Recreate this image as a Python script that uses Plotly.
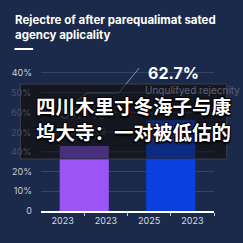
import plotly.graph_objects as go

# Data
bar_x = [1, 3]
bar_values = [3.3, 4.6]
bar_colors = ["#9b55f5", "#0a40e0"]
bar_colors_dim = ["#47307a", "#0d2b80"]
x_label_pos = [0.5, 1.5, 2.5, 3.5]
x_labels = ["2023", "2023", "2025", "2023"]
y_tick_vals = [0, 1, 2, 3, 4, 5, 6, 7]
y_tick_text = ["0", "10%", "20%", "40%", "20%", "60%", "50%", "40%"]
title_text = "Rejectre of after parequalimat sated<br>agency aplicality"
big_value = "62.7%"
big_label = "Unqulifyed rejecnity"
left_value = "37.7%"
left_label = "Qualified rate"
overlay_lines = ["四川木里寸冬海子与康", "坞大寺：一对被低估的"]

W = H = 243
L, R, B, T = 38, 29, 32, 69
YMAX = 7.2
BAR_W = 50 / 44
pw = W - L - R
ph = H - T - B

def px(x):
    return (x - L) / pw

def py(y):
    return (H - B - y) / ph

bg = "#1b2a4a"
box_col = "#14171f"
font_lat = "Inter, Roboto, sans-serif"
bx0, bx1, by0, by1 = 17, 227, 84, 159
box_lo = YMAX * py(by1)
box_hi = YMAX * py(by0)

fig = go.Figure()
fig.add_trace(go.Bar(x=bar_x, y=bar_values, width=BAR_W,
                     marker=dict(color=bar_colors, line=dict(width=0)),
                     hoverinfo="skip"))

# title underline
fig.add_shape(type="rect", xref="paper", yref="paper",
              x0=px(11), x1=px(30), y0=py(50), y1=py(48),
              fillcolor="white", line=dict(width=0), layer="above")

# dark overlay box
fig.add_shape(type="rect", xref="paper", yref="paper", layer="above",
              x0=px(bx0), x1=px(bx1), y0=py(by1), y1=py(by0),
              fillcolor=box_col, line=dict(color="#3b4150", width=1))

# dimmed gridlines and bar parts seen through the box
for v in y_tick_vals:
    if box_lo < v < box_hi:
        fig.add_shape(type="line", xref="paper", yref="y", layer="above",
                      x0=0, x1=1, y0=v, y1=v, line=dict(color="#23283a", width=1))
for xv, val, col in zip(bar_x, bar_values, bar_colors_dim):
    if val > box_lo:
        fig.add_shape(type="rect", xref="x", yref="y", layer="above",
                      x0=xv - BAR_W / 2, x1=xv + BAR_W / 2,
                      y0=box_lo + 0.03, y1=min(val, box_hi),
                      fillcolor=col, line=dict(width=0))

# connector line (dim inside the box)
pts_in = [(73, 102), (85, 93), (117, 93), (124.5, 84)]
pts_out = [(124.5, 84), (138, 68)]
for pts, col in ((pts_in, "#3e4455"), (pts_out, "#8a93a8")):
    path = "M " + " L ".join(f"{px(a):.5f},{py(b):.5f}" for a, b in pts)
    fig.add_shape(type="path", xref="paper", yref="paper", path=path,
                  line=dict(color=col, width=1), layer="above")

annotations = []
annotations.append(dict(x=px(10), y=py(11), xref="paper", yref="paper",
                        text=title_text, showarrow=False, xanchor="left", yanchor="top",
                        align="left",
                        font=dict(family=font_lat, size=11.5, color="white", weight="bold")))
annotations.append(dict(x=px(145), y=py(73), xref="paper", yref="paper",
                        text=big_value, showarrow=False, xanchor="left", yanchor="middle",
                        font=dict(family=font_lat, size=16, color="white", weight="bold")))
annotations.append(dict(x=px(142), y=py(90), xref="paper", yref="paper",
                        text=big_label, showarrow=False, xanchor="left", yanchor="middle",
                        font=dict(family=font_lat, size=10, color="#5c6375")))
annotations.append(dict(x=px(55), y=py(113), xref="paper", yref="paper",
                        text=left_value, showarrow=False, xanchor="left", yanchor="middle",
                        font=dict(family=font_lat, size=15, color="#2a2f3c", weight="bold")))
annotations.append(dict(x=px(106), y=py(131), xref="paper", yref="paper",
                        text=left_label, showarrow=False, xanchor="right", yanchor="middle",
                        font=dict(family=font_lat, size=11, color="#2a2f3c")))

# y tick labels that sit behind the box, drawn dimmed
axis_ticktext = []
for v, t in zip(y_tick_vals, y_tick_text):
    if box_lo < v < box_hi:
        axis_ticktext.append("")
        annotations.append(dict(x=px(30), y=v / YMAX, xref="paper", yref="paper",
                                text=t, showarrow=False, xanchor="right", yanchor="middle",
                                font=dict(family=font_lat, size=9, color="#4a5060")))
    else:
        axis_ticktext.append(t)

shadow = ("-1px -1px 0 #000, 1px -1px 0 #000, -1px 1px 0 #000, 1px 1px 0 #000, "
          "0 2px 2px #000")
for i, line in enumerate(overlay_lines):
    annotations.append(dict(x=px(31), y=py(105 + i * 26), xref="paper", yref="paper",
                            text=line, showarrow=False, xanchor="left", yanchor="middle",
                            font=dict(family="Noto Sans CJK SC", size=19.5, color="white",
                                      weight="bold", shadow=shadow)))

fig.update_layout(
    width=W, height=H,
    margin=dict(l=L, r=R, t=T, b=B),
    paper_bgcolor=bg, plot_bgcolor=bg,
    showlegend=False,
    annotations=annotations,
    xaxis=dict(range=[0, 4], tickvals=x_label_pos, ticktext=x_labels, ticks="",
               showgrid=False, zeroline=False, showline=True, linecolor="white", linewidth=1.5,
               tickfont=dict(family=font_lat, size=9, color="#d8dce6"),
               minor=dict(tickvals=[1, 2, 3, 4], ticks="outside", ticklen=3,
                          tickcolor="#c0c6d4", showgrid=False),
               fixedrange=True),
    yaxis=dict(range=[0, YMAX], tickvals=y_tick_vals, ticktext=axis_ticktext,
               showgrid=True, gridcolor="#34436a", gridwidth=1, zeroline=False,
               showline=False, ticks="", ticklabelstandoff=8,
               tickfont=dict(family=font_lat, size=9, color="#c8cdd8"),
               fixedrange=True),
)

fig.write_html("out.html", config={"displayModeBar": False})
